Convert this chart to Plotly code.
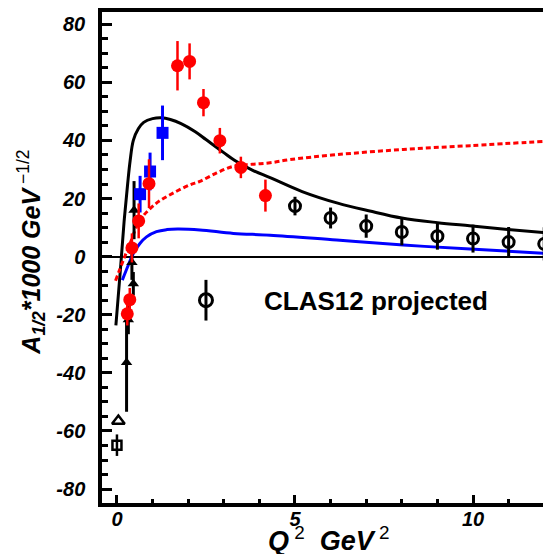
import plotly.graph_objects as go

# ---- data ----
# CLAS12 projected (open circles)
clas12_q2 = [5, 6, 7, 8, 9, 10, 11, 12]
clas12_a = [17.4, 13.3, 10.5, 8.5, 7.0, 6.2, 5.0, 4.4]
clas12_err = [3.2, 3.6, 4.0, 4.6, 4.6, 4.8, 5.2, 5.7]

# red filled circles
red_q2 = [0.29, 0.36, 0.42, 0.61, 0.90, 1.70, 2.04, 2.43, 2.89, 3.48, 4.17]
red_a = [-19.7, -14.8, 3.0, 12.3, 25.1, 65.7, 67.2, 53.0, 39.9, 30.7, 21.0]
red_err = [4.0, 4.0, 5.0, 6.0, 8.4, 8.5, 6.2, 4.7, 4.4, 3.7, 5.5]

# blue squares
blue_q2 = [0.65, 0.93, 1.28]
blue_a = [21.5, 29.3, 42.6]
blue_err = [6.3, 6.5, 9.4]

# black filled triangles
tri_q2 = [0.27, 0.32, 0.42, 0.46, 0.48]
tri_a = [-36.4, -21.7, -2.0, -9.3, 16.0]
tri_err = [17.0, 5.0, 6.0, 4.0, 10.0]

# open triangle and open square near Q2 = 0
otri_q2 = [0.04]
otri_a = [-56.6]
osq_q2 = [0.0]
osq_a = [-64.9]
osq_err = [3.7]

# model curves
black_q2 = [-0.03, 0.1, 0.2, 0.3, 0.37, 0.46, 0.6, 0.75, 1.0, 1.25, 1.5, 1.8, 2.2, 2.5,
            3.0, 3.3, 3.8, 4.3, 5.2, 6.2, 7.1, 8.0, 9.0, 9.9, 10.9, 12.05]
black_a = [-23.7, -4.0, 12.0, 25.0, 33.0, 40.0, 44.0, 46.2, 47.5, 47.8, 47.2, 45.8, 43.0, 40.3,
           35.8, 33.2, 29.8, 27.2, 22.4, 18.4, 15.7, 13.3, 11.7, 10.6, 9.4, 8.2]

red_curve_q2 = [-0.04, 0.18, 0.37, 0.65, 1.11, 1.6, 2.05, 2.33, 2.8, 3.27, 3.8, 4.3, 4.86,
                6.17, 8.04, 9.92, 12.04]
red_curve_a = [-8.3, -1.2, 4.6, 12.6, 18.4, 22.0, 24.7, 25.9, 28.8, 31.1, 31.8, 32.3, 33.4,
               35.1, 36.9, 38.2, 39.7]

blue_curve_q2 = [0.15, 0.3, 0.46, 0.65, 0.83, 1.11, 1.4, 1.7, 2.33, 3.27, 4.3, 6.17, 8.04,
                 9.92, 12.04]
blue_curve_a = [-8.1, -3.5, 1.1, 4.6, 6.8, 8.6, 9.3, 9.5, 9.2, 8.0, 7.4, 5.7, 4.0, 2.6, 1.1]

# legend entry
legend_q2 = [2.5]
legend_a = [-15.0]
legend_err = [7.0]
legend_label = "CLAS12 projected"

x_ticks = [0, 5, 10]
y_ticks = [-80, -60, -40, -20, 0, 20, 40, 60, 80]

FONT = "Liberation Sans"

fig = go.Figure()

fig.add_trace(go.Scatter(x=black_q2, y=black_a, mode="lines",
                         line=dict(color="black", width=3, shape="spline"), hoverinfo="skip"))
fig.add_trace(go.Scatter(x=red_curve_q2, y=red_curve_a, mode="lines",
                         line=dict(color="#ff0000", width=3, dash="5px,3px", shape="spline"), hoverinfo="skip"))
fig.add_trace(go.Scatter(x=blue_curve_q2, y=blue_curve_a, mode="lines",
                         line=dict(color="#0000ff", width=3, shape="spline"), hoverinfo="skip"))

fig.add_trace(go.Scatter(x=tri_q2, y=tri_a, mode="markers",
                         marker=dict(symbol="triangle-up", size=10, color="black"),
                         error_y=dict(type="data", array=tri_err, color="black", thickness=3, width=0)))
fig.add_trace(go.Scatter(x=otri_q2, y=otri_a, mode="markers",
                         marker=dict(symbol="triangle-up-open", size=11, color="black",
                                     line=dict(width=2.5, color="black"))))
fig.add_trace(go.Scatter(x=osq_q2, y=osq_a, mode="markers",
                         marker=dict(symbol="square-open", size=9, color="black",
                                     line=dict(width=2.5, color="black")),
                         error_y=dict(type="data", array=osq_err, color="black", thickness=2.5, width=0)))
fig.add_trace(go.Scatter(x=blue_q2, y=blue_a, mode="markers",
                         marker=dict(symbol="square", size=12, color="#0000ff"),
                         error_y=dict(type="data", array=blue_err, color="#0000ff", thickness=3, width=0)))
fig.add_trace(go.Scatter(x=red_q2, y=red_a, mode="markers",
                         marker=dict(symbol="circle", size=13, color="#ff0000"),
                         error_y=dict(type="data", array=red_err, color="#ff0000", thickness=2.5, width=0)))
fig.add_trace(go.Scatter(x=clas12_q2, y=clas12_a, mode="markers",
                         marker=dict(symbol="circle-open", size=11, color="black",
                                     line=dict(width=3, color="black")),
                         error_y=dict(type="data", array=clas12_err, color="black", thickness=3, width=0)))
fig.add_trace(go.Scatter(x=legend_q2, y=legend_a, mode="markers",
                         marker=dict(symbol="circle-open", size=13, color="black",
                                     line=dict(width=3, color="black")),
                         error_y=dict(type="data", array=legend_err, color="black", thickness=3, width=0)))

fig.add_annotation(x=legend_q2[0], y=legend_a[0], xref="x", yref="y", text="<b>" + legend_label + "</b>",
                   showarrow=False, xanchor="left", yanchor="middle", xshift=56, yshift=-1,
                   font=dict(family=FONT, size=26, color="black"))

# axis titles
fig.add_annotation(xref="paper", yref="paper", x=-0.158, y=0.51, textangle=-90,
                   text="<b><i>A</i></b><sub><b><i>1/2</i></b></sub><b><i>*1000 GeV</i></b><sup> \u22121/2</sup>",
                   showarrow=False, xanchor="center", yanchor="middle",
                   font=dict(family=FONT, size=25, color="black"))
fig.add_annotation(xref="paper", yref="paper", x=0.505, y=-0.074,
                   text="<b><i>Q</i></b><sup> 2</sup><b><i>  GeV</i></b><sup> 2</sup>",
                   showarrow=False, xanchor="center", yanchor="middle",
                   font=dict(family=FONT, size=27, color="black"))

tickfont = dict(family=FONT, size=20, color="black", weight="bold", style="italic")

fig.update_xaxes(range=[-0.42, 12.19], tickvals=x_ticks, ticktext=[str(v) for v in x_ticks],
                 ticks="inside", ticklen=8, tickwidth=2.5, tickcolor="black",
                 minor=dict(dtick=1, tick0=0, ticks="inside", ticklen=4, tickwidth=2.5, tickcolor="black"),
                 showline=True, linecolor="black", linewidth=3.5, mirror=True,
                 showgrid=False, zeroline=False, tickfont=tickfont, ticklabelstandoff=-5)
fig.update_yaxes(range=[-84.8, 84.2], tickvals=y_ticks, ticktext=[str(v) for v in y_ticks],
                 ticks="inside", ticklen=10, tickwidth=2.5, tickcolor="black",
                 minor=dict(dtick=5, tick0=0, ticks="inside", ticklen=6, tickwidth=2.5, tickcolor="black"),
                 showline=True, linecolor="black", linewidth=3.5, mirror=False,
                 showgrid=False, zeroline=True, zerolinecolor="black", zerolinewidth=2,
                 tickfont=tickfont, ticklabelstandoff=9)

fig.update_layout(width=543, height=546, showlegend=False,
                  margin=dict(l=94, r=0, t=4, b=51),
                  plot_bgcolor="white", paper_bgcolor="white")

fig.write_html("out.html")
